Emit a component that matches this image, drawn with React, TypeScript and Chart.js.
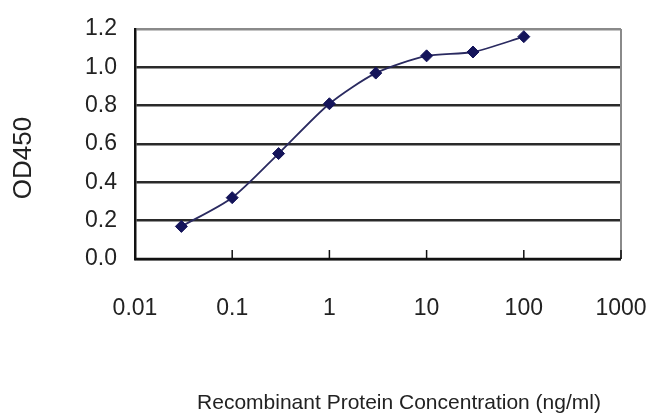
import React, { useEffect, useRef } from "react";
import { Chart, registerables } from "chart.js";

Chart.register(...registerables);

const concentrations = [0.03, 0.1, 0.3, 1, 3, 10, 30, 100];
const od450 = [0.17, 0.32, 0.55, 0.81, 0.97, 1.06, 1.08, 1.16];
const xTickValues = [0.01, 0.1, 1, 10, 100, 1000];
const yTickValues = [0, 0.2, 0.4, 0.6, 0.8, 1.0, 1.2];
const xTitle = "Recombinant Protein Concentration (ng/ml)";
const yTitle = "OD450";

const FONT = "'Liberation Sans Narrow', 'Liberation Sans', Arial, sans-serif";

const framePlugin = {
  id: "frame",
  afterDraw(chart: any) {
    const { ctx, chartArea } = chart;
    const xs = chart.scales.x;
    ctx.save();
    ctx.strokeStyle = "#8a8a8a";
    ctx.lineWidth = 2;
    ctx.beginPath();
    ctx.moveTo(chartArea.right, chartArea.top);
    ctx.lineTo(chartArea.right, chartArea.bottom);
    ctx.stroke();
    ctx.strokeStyle = "#111";
    ctx.lineWidth = 2.5;
    ctx.beginPath();
    ctx.moveTo(chartArea.left, chartArea.bottom);
    ctx.lineTo(chartArea.right, chartArea.bottom);
    ctx.stroke();
    ctx.lineWidth = 1.5;
    xTickValues.slice(1).forEach((v) => {
      const px = xs.getPixelForValue(v);
      ctx.beginPath();
      ctx.moveTo(px, chartArea.bottom);
      ctx.lineTo(px, chartArea.bottom - 9);
      ctx.stroke();
    });
    // axis titles
    ctx.fillStyle = "#222";
    ctx.textAlign = "center";
    ctx.textBaseline = "middle";
    ctx.font = `21px ${FONT}`;
    ctx.fillText(xTitle, 399, 403);
    ctx.translate(24, 158);
    ctx.rotate(-Math.PI / 2);
    ctx.font = `26px ${FONT}`;
    ctx.fillText(yTitle, 0, 0);
    ctx.restore();
  },
};

export default function App() {
  const ref = useRef<HTMLCanvasElement>(null);
  useEffect(() => {
    if (!ref.current) return;
    const chart = new Chart(ref.current, {
      type: "line",
      data: {
        datasets: [
          {
            data: concentrations.map((c, i) => ({ x: c, y: od450[i] })),
            borderColor: "#2a2a60",
            backgroundColor: "#14145a",
            borderWidth: 1.8,
            pointStyle: "rectRot",
            pointRadius: 6,
            pointBorderWidth: 1,
            pointBorderColor: "#14145a",
            tension: 0.25,
          },
        ],
      },
      plugins: [framePlugin],
      options: {
        animation: false,
        responsive: false,
        layout: { padding: { top: 29, right: 27, left: 0, bottom: 0 } },
        plugins: { legend: { display: false }, tooltip: { enabled: false } },
        scales: {
          x: {
            type: "logarithmic",
            min: 0.01,
            max: 1000,
            afterFit(scale: any) {
              scale.height = 159;
              scale.paddingLeft = 0;
              scale.paddingRight = 0;
            },
            afterBuildTicks(scale: any) {
              scale.ticks = xTickValues.map((v) => ({ value: v }));
            },
            grid: { display: false, drawTicks: false },
            border: { display: false },
            ticks: {
              padding: 36,
              color: "#222",
              font: { family: FONT, size: 23 },
              autoSkip: false,
              maxRotation: 0,
              callback: (v: any) => String(v),
            },
          },
          y: {
            min: 0,
            max: 1.2,
            afterFit(scale: any) {
              scale.width = 135;
              scale.paddingTop = 0;
              scale.paddingBottom = 0;
            },
            afterBuildTicks(scale: any) {
              scale.ticks = yTickValues.map((v) => ({ value: v }));
            },
            grid: {
              drawTicks: false,
              color: (c: any) => (c.tick && c.tick.value === 1.2 ? "#8a8a8a" : "#2a2a2a"),
              lineWidth: 2.5,
            },
            border: { display: true, color: "#111", width: 2.5 },
            ticks: {
              padding: 18,
              color: "#222",
              font: { family: FONT, size: 23 },
              callback: (v: any) => Number(v).toFixed(1),
            },
          },
        },
      },
    });
    return () => chart.destroy();
  }, []);
  return (
    <div style={{ position: "absolute", left: 0, top: 0, width: 648, height: 418, background: "#fff" }}>
      <canvas ref={ref} width={648} height={418} style={{ display: "block" }} />
    </div>
  );
}
